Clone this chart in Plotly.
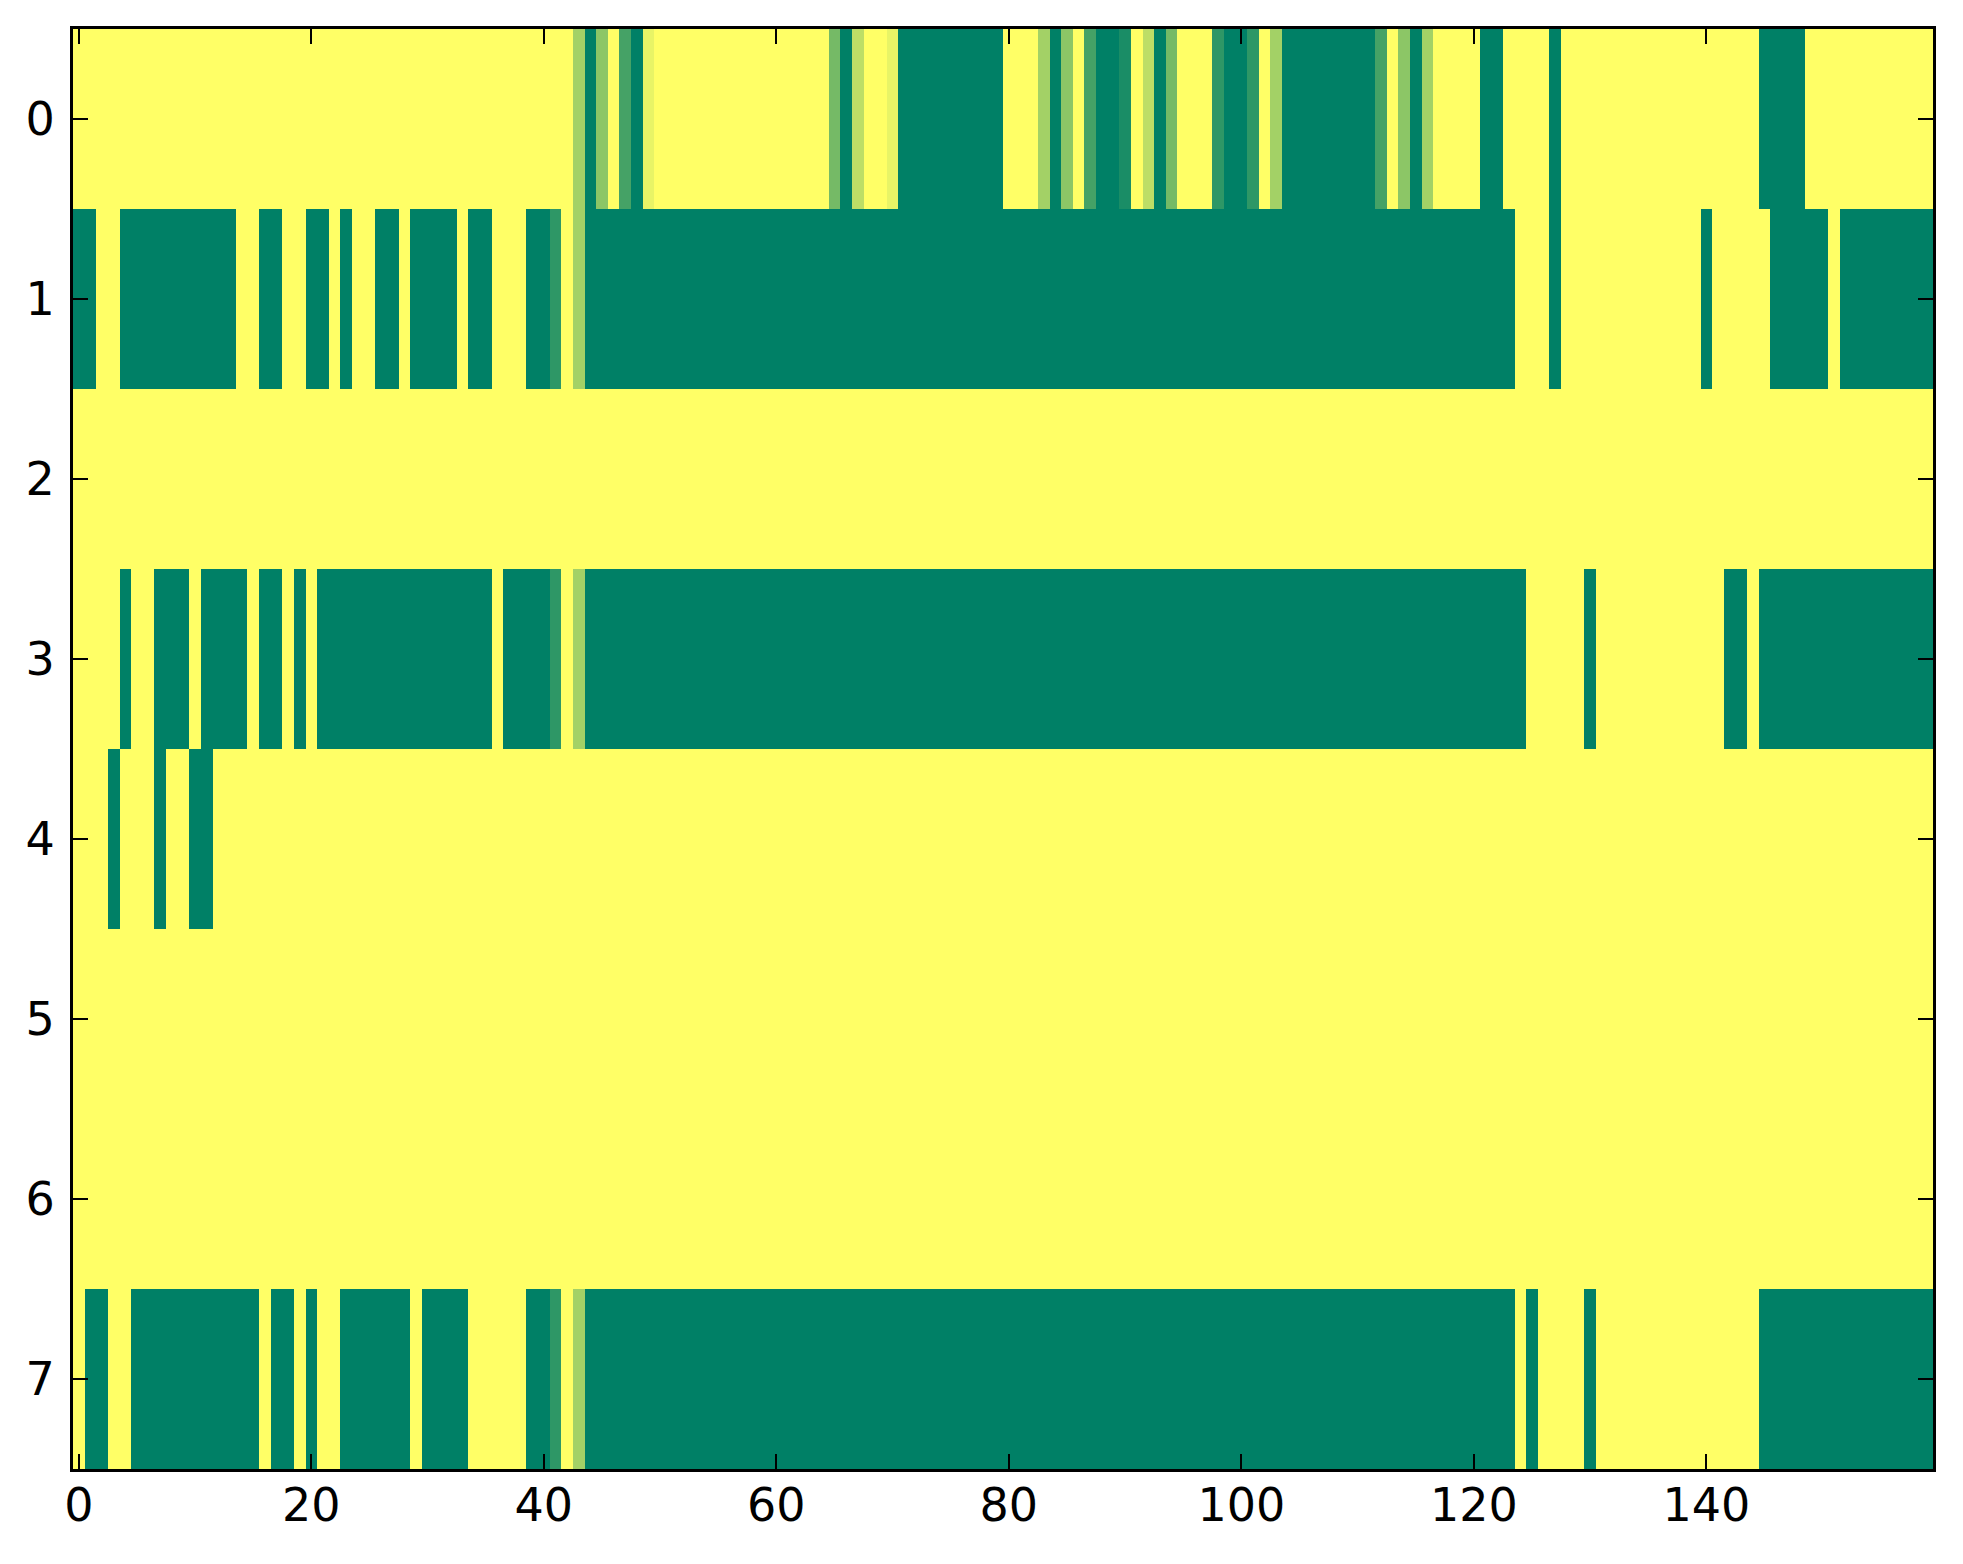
import plotly.graph_objects as go

# values, one list per row, 160 columns each
row0 = [
    1, 1, 1, 1, 1, 1, 1, 1, 1, 1, 1, 1, 1, 1, 1, 1, 1, 1, 1, 1,
    1, 1, 1, 1, 1, 1, 1, 1, 1, 1, 1, 1, 1, 1, 1, 1, 1, 1, 1, 1,
    1, 1, 1, .64, 0, .55, 1, .27, 0, .91, 1, 1, 1, 1, 1, 1, 1, 1, 1, 1,
    1, 1, 1, 1, 1, .46, 0, .74, 1, 1, .91, 0, 0, 0, 0, 0, 0, 0, 0, 0,
    1, 1, 1, .64, 0, .55, 1, .27, 0, 0, .1, 1, .74, 0, .46, 1, 1, 1, .18, 0,
    0, .18, 1, .64, 0, 0, 0, 0, 0, 0, 0, 0, .27, 1, .55, 0, .64, 1, 1, 1,
    1, 0, 0, 1, 1, 1, 1, 0, 1, 1, 1, 1, 1, 1, 1, 1, 1, 1, 1, 1,
    1, 1, 1, 1, 1, 0, 0, 0, 0, 1, 1, 1, 1, 1, 1, 1, 1, 1, 1, 1,
]
row1 = [
    0, 0, 1, 1, 0, 0, 0, 0, 0, 0, 0, 0, 0, 0, 1, 1, 0, 0, 1, 1,
    0, 0, 1, 0, 1, 1, 0, 0, 1, 0, 0, 0, 0, 1, 0, 0, 1, 1, 1, 0,
    0, .18, 1, .64, 0, 0, 0, 0, 0, 0, 0, 0, 0, 0, 0, 0, 0, 0, 0, 0,
    0, 0, 0, 0, 0, 0, 0, 0, 0, 0, 0, 0, 0, 0, 0, 0, 0, 0, 0, 0,
    0, 0, 0, 0, 0, 0, 0, 0, 0, 0, 0, 0, 0, 0, 0, 0, 0, 0, 0, 0,
    0, 0, 0, 0, 0, 0, 0, 0, 0, 0, 0, 0, 0, 0, 0, 0, 0, 0, 0, 0,
    0, 0, 0, 0, 1, 1, 1, 0, 1, 1, 1, 1, 1, 1, 1, 1, 1, 1, 1, 1,
    0, 1, 1, 1, 1, 1, 0, 0, 0, 0, 0, 1, 0, 0, 0, 0, 0, 0, 0, 0,
]
row2 = [
    1, 1, 1, 1, 1, 1, 1, 1, 1, 1, 1, 1, 1, 1, 1, 1, 1, 1, 1, 1,
    1, 1, 1, 1, 1, 1, 1, 1, 1, 1, 1, 1, 1, 1, 1, 1, 1, 1, 1, 1,
    1, 1, 1, 1, 1, 1, 1, 1, 1, 1, 1, 1, 1, 1, 1, 1, 1, 1, 1, 1,
    1, 1, 1, 1, 1, 1, 1, 1, 1, 1, 1, 1, 1, 1, 1, 1, 1, 1, 1, 1,
    1, 1, 1, 1, 1, 1, 1, 1, 1, 1, 1, 1, 1, 1, 1, 1, 1, 1, 1, 1,
    1, 1, 1, 1, 1, 1, 1, 1, 1, 1, 1, 1, 1, 1, 1, 1, 1, 1, 1, 1,
    1, 1, 1, 1, 1, 1, 1, 1, 1, 1, 1, 1, 1, 1, 1, 1, 1, 1, 1, 1,
    1, 1, 1, 1, 1, 1, 1, 1, 1, 1, 1, 1, 1, 1, 1, 1, 1, 1, 1, 1,
]
row3 = [
    1, 1, 1, 1, 0, 1, 1, 0, 0, 0, 1, 0, 0, 0, 0, 1, 0, 0, 1, 0,
    1, 0, 0, 0, 0, 0, 0, 0, 0, 0, 0, 0, 0, 0, 0, 0, 1, 0, 0, 0,
    0, .18, 1, .64, 0, 0, 0, 0, 0, 0, 0, 0, 0, 0, 0, 0, 0, 0, 0, 0,
    0, 0, 0, 0, 0, 0, 0, 0, 0, 0, 0, 0, 0, 0, 0, 0, 0, 0, 0, 0,
    0, 0, 0, 0, 0, 0, 0, 0, 0, 0, 0, 0, 0, 0, 0, 0, 0, 0, 0, 0,
    0, 0, 0, 0, 0, 0, 0, 0, 0, 0, 0, 0, 0, 0, 0, 0, 0, 0, 0, 0,
    0, 0, 0, 0, 0, 1, 1, 1, 1, 1, 0, 1, 1, 1, 1, 1, 1, 1, 1, 1,
    1, 1, 0, 0, 1, 0, 0, 0, 0, 0, 0, 0, 0, 0, 0, 0, 0, 0, 0, 0,
]
row4 = [
    1, 1, 1, 0, 1, 1, 1, 0, 1, 1, 0, 0, 1, 1, 1, 1, 1, 1, 1, 1,
    1, 1, 1, 1, 1, 1, 1, 1, 1, 1, 1, 1, 1, 1, 1, 1, 1, 1, 1, 1,
    1, 1, 1, 1, 1, 1, 1, 1, 1, 1, 1, 1, 1, 1, 1, 1, 1, 1, 1, 1,
    1, 1, 1, 1, 1, 1, 1, 1, 1, 1, 1, 1, 1, 1, 1, 1, 1, 1, 1, 1,
    1, 1, 1, 1, 1, 1, 1, 1, 1, 1, 1, 1, 1, 1, 1, 1, 1, 1, 1, 1,
    1, 1, 1, 1, 1, 1, 1, 1, 1, 1, 1, 1, 1, 1, 1, 1, 1, 1, 1, 1,
    1, 1, 1, 1, 1, 1, 1, 1, 1, 1, 1, 1, 1, 1, 1, 1, 1, 1, 1, 1,
    1, 1, 1, 1, 1, 1, 1, 1, 1, 1, 1, 1, 1, 1, 1, 1, 1, 1, 1, 1,
]
row5 = list(row2)
row6 = list(row2)
row7 = [
    1, 0, 0, 1, 1, 0, 0, 0, 0, 0, 0, 0, 0, 0, 0, 0, 1, 0, 0, 1,
    0, 1, 1, 0, 0, 0, 0, 0, 0, 1, 0, 0, 0, 0, 1, 1, 1, 1, 1, 0,
    0, .18, 1, .64, 0, 0, 0, 0, 0, 0, 0, 0, 0, 0, 0, 0, 0, 0, 0, 0,
    0, 0, 0, 0, 0, 0, 0, 0, 0, 0, 0, 0, 0, 0, 0, 0, 0, 0, 0, 0,
    0, 0, 0, 0, 0, 0, 0, 0, 0, 0, 0, 0, 0, 0, 0, 0, 0, 0, 0, 0,
    0, 0, 0, 0, 0, 0, 0, 0, 0, 0, 0, 0, 0, 0, 0, 0, 0, 0, 0, 0,
    0, 0, 0, 0, 1, 0, 1, 1, 1, 1, 0, 1, 1, 1, 1, 1, 1, 1, 1, 1,
    1, 1, 1, 1, 1, 0, 0, 0, 0, 0, 0, 0, 0, 0, 0, 0, 0, 0, 0, 0,
]

x_ticks = [0, 20, 40, 60, 80, 100, 120, 140]
y_ticks = [0, 1, 2, 3, 4, 5, 6, 7]

z = [row0, row1, row2, row3, row4, row5, row6, row7]

# matplotlib "summer" colormap
summer = [[0, "rgb(0,128,102)"], [1, "rgb(255,255,102)"]]

fig = go.Figure(
    go.Heatmap(
        z=z,
        colorscale=summer,
        zmin=0,
        zmax=1,
        showscale=False,
        hoverinfo="skip",
    )
)

axis_style = dict(
    showline=True,
    linecolor="black",
    linewidth=3,
    mirror="ticks",
    ticks="inside",
    ticklen=15,
    tickwidth=2,
    tickcolor="black",
    showgrid=False,
    zeroline=False,
    automargin=False,
    tickfont=dict(family="DejaVu Sans", size=46, color="black"),
)

fig.update_xaxes(
    range=[-0.5, 159.5],
    tickvals=x_ticks,
    ticklabelstandoff=-6,
    **axis_style,
)
fig.update_yaxes(
    range=[7.5, -0.5],
    tickvals=y_ticks,
    ticklabelstandoff=6,
    **axis_style,
)

# the page body adds an 8px offset, so the figure is trimmed by that much
fig.update_layout(
    width=1955,
    height=1556,
    margin=dict(l=65, r=30, t=21, b=95),
    paper_bgcolor="white",
    plot_bgcolor="white",
)

fig.write_html("out.html")
